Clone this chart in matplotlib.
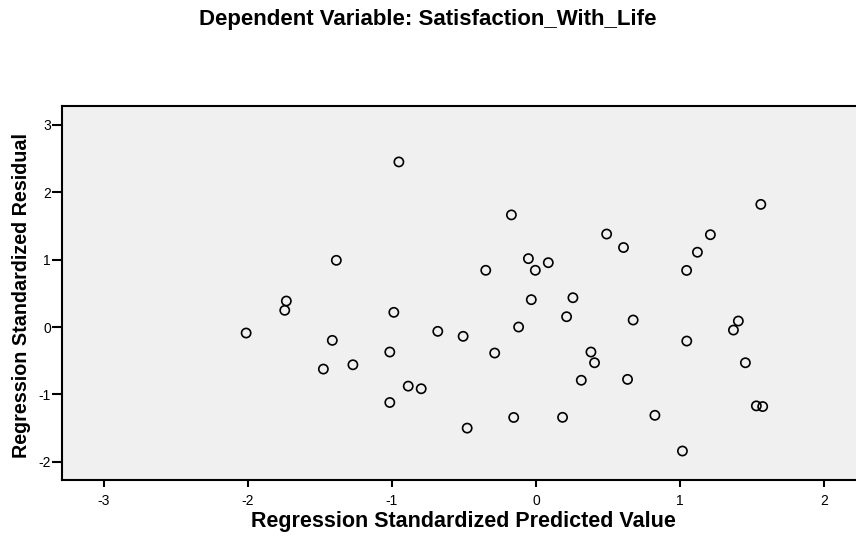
import matplotlib
matplotlib.use("Agg")
import matplotlib.pyplot as plt

plt.rcParams['font.family'] = ['Liberation Sans', 'DejaVu Sans']
plt.rcParams['axes.unicode_minus'] = False

title = "Dependent Variable: Satisfaction_With_Life"
x_label = "Regression Standardized Predicted Value"
y_label = "Regression Standardized Residual"

predicted = [-2.012, -1.733, -1.744, -1.414, -1.476, -1.386, -1.271, -0.987, -1.015, -0.952,
             -0.887, -0.797, -1.015, -0.682, -0.506, -0.478, -0.349, -0.287, -0.171, -0.121,
             -0.155, -0.053, -0.033, -0.005, 0.085, 0.212, 0.256, 0.184, 0.314, 0.381,
             0.406, 0.490, 0.607, 0.635, 0.674, 0.825, 1.016, 1.045, 1.046, 1.120,
             1.210, 1.370, 1.404, 1.453, 1.560, 1.529, 1.573]
residual = [-0.089, 0.386, 0.248, -0.198, -0.624, 0.990, -0.560, 0.218, -0.371, 2.450,
            -0.877, -0.916, -1.120, -0.064, -0.138, -1.500, 0.842, -0.386, 1.664, 0.000,
            -1.342, 1.015, 0.406, 0.842, 0.955, 0.153, 0.435, -1.340, -0.790, -0.371,
            -0.530, 1.380, 1.180, -0.777, 0.104, -1.310, -1.840, 0.840, -0.208, 1.110,
            1.370, -0.045, 0.089, -0.530, 1.820, -1.170, -1.180]

x_ticks = [-3, -2, -1, 0, 1, 2]
y_ticks = [-2, -1, 0, 1, 2, 3]

fig = plt.figure(figsize=(8.56, 5.40), dpi=100)
ax = fig.add_axes([62/856, 60/540, 1 - 62/856 + 0.01, 374/540])
ax.set_facecolor('#F0F0F0')

ax.scatter(predicted, residual, s=44, facecolors='none', edgecolors='black', linewidths=1.2, zorder=3)

ax.set_xlim(-3.29, 2.28)
ax.set_ylim(-2.27, 3.28)
ax.set_xticks(x_ticks)
ax.set_yticks(y_ticks)
ax.tick_params(axis='x', direction='out', length=5, width=1.5, labelsize=10, pad=5, color='black')
ax.tick_params(axis='y', direction='out', length=7, width=1.5, labelsize=10, pad=1, color='black')

for side in ['left', 'bottom', 'top', 'right']:
    ax.spines[side].set_linewidth(1.5)
    ax.spines[side].set_color('black')

ax.set_xlabel(x_label, fontsize=15.5, fontweight='bold', va='center', ha='center')
ax.xaxis.set_label_coords(463.5/856, 1 - 521/540, transform=fig.transFigure)
ax.set_ylabel(y_label, fontsize=14.2, fontweight='bold', va='center', ha='center')
ax.yaxis.set_label_coords(22/856, 1 - 296/540, transform=fig.transFigure)
fig.text(427.5/856, 1 - 20/540, title, ha='center', va='center',
         fontsize=16, fontweight='bold')

fig.savefig("out.png", dpi=100)
